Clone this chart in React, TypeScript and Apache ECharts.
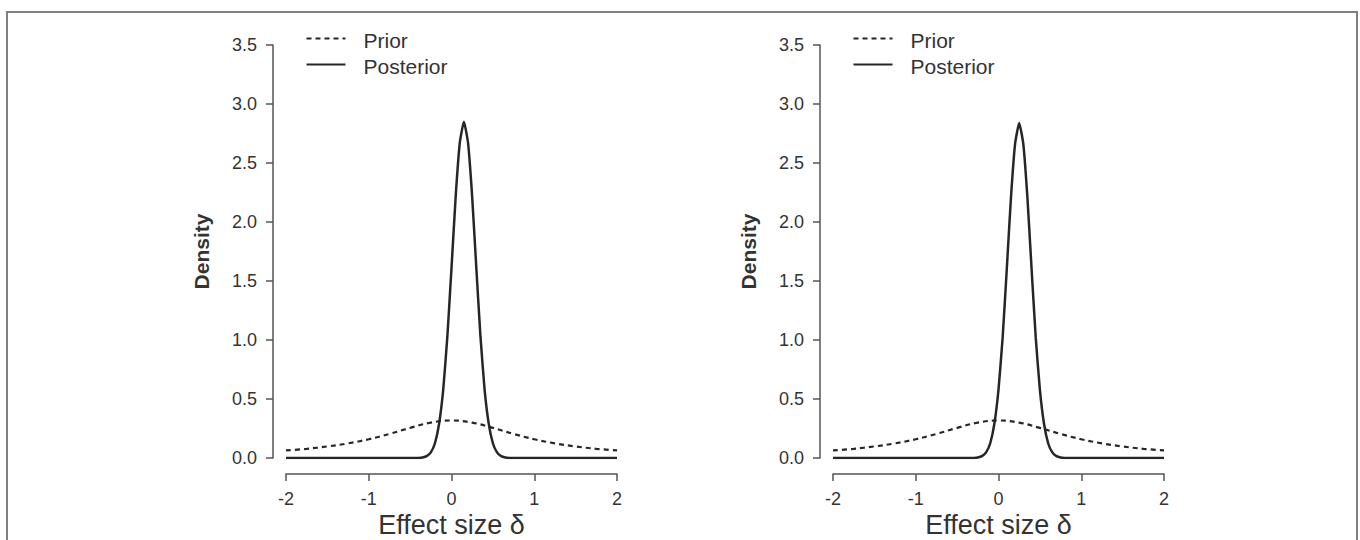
import React, { useEffect, useRef } from "react";
import * as echarts from "echarts";

// Prior (Cauchy-like) density, same in both panels
const priorX = [-2, -1.75, -1.5, -1.25, -1, -0.75, -0.5, -0.25, 0, 0.25, 0.5, 0.75, 1, 1.25, 1.5, 1.75, 2];
const priorY = [0.064, 0.078, 0.098, 0.124, 0.159, 0.204, 0.255, 0.3, 0.318, 0.3, 0.255, 0.204, 0.159, 0.124, 0.098, 0.078, 0.064];

// Left panel posterior
const postLeftX = [-2, -0.45, -0.4, -0.35, -0.3, -0.25, -0.2, -0.15, -0.1, -0.05, 0, 0.05, 0.1, 0.15, 0.2, 0.25, 0.3, 0.35, 0.4, 0.45, 0.5, 0.55, 0.6, 0.65, 0.7, 0.75, 2];
const postLeftY = [0, 0, 0.001, 0.005, 0.016, 0.048, 0.125, 0.29, 0.58, 1.03, 1.61, 2.21, 2.67, 2.85, 2.67, 2.21, 1.61, 1.03, 0.58, 0.29, 0.125, 0.048, 0.016, 0.005, 0.001, 0, 0];

// Right panel posterior
const postRightX = [-2, -0.35, -0.3, -0.25, -0.2, -0.15, -0.1, -0.05, 0, 0.05, 0.1, 0.15, 0.2, 0.25, 0.3, 0.35, 0.4, 0.45, 0.5, 0.55, 0.6, 0.65, 0.7, 0.75, 0.8, 0.85, 2];
const postRightY = [0, 0, 0.001, 0.005, 0.016, 0.048, 0.125, 0.29, 0.58, 1.02, 1.6, 2.2, 2.66, 2.84, 2.66, 2.2, 1.6, 1.02, 0.58, 0.29, 0.125, 0.048, 0.016, 0.005, 0.001, 0, 0];

const xTicks = { min: -2, max: 2, interval: 1 };
const yTicks = { min: 0, max: 3.5, interval: 0.5 };

const legendNames = ["Prior", "Posterior"];

const FONT = "Liberation Sans, Arial, sans-serif";
const AXIS_COLOR = "#555";
const TEXT_COLOR = "#333";
const LINE_COLOR = "#262626";
const DASH = [5, 4];

const zip = (xs: number[], ys: number[]) => xs.map((x, i) => [x, ys[i]]);

export default function App() {
  const ref = useRef<HTMLDivElement>(null);
  useEffect(() => {
    if (!ref.current) return;
    const chart = echarts.init(ref.current, null, { renderer: "svg" });

    const makeX = (gridIndex: number) => ({
      type: "value",
      gridIndex,
      min: xTicks.min,
      max: xTicks.max,
      interval: xTicks.interval,
      offset: 16,
      axisLine: { show: true, onZero: false, lineStyle: { color: AXIS_COLOR, width: 1.5 } },
      axisTick: { show: true, length: 7, lineStyle: { color: AXIS_COLOR, width: 1.5 } },
      splitLine: { show: false },
      axisLabel: { fontSize: 18, lineHeight: 16, color: TEXT_COLOR, fontFamily: FONT, margin: 17 },
      name: "Effect size δ",
      nameLocation: "middle",
      nameGap: 39,
      nameMoveOverlap: false,
      nameTextStyle: { fontSize: 27, lineHeight: 24, color: TEXT_COLOR, fontFamily: FONT },
    });
    const makeY = (gridIndex: number) => ({
      type: "value",
      gridIndex,
      min: yTicks.min,
      max: yTicks.max,
      interval: yTicks.interval,
      offset: 13,
      axisLine: { show: true, onZero: false, lineStyle: { color: AXIS_COLOR, width: 1.5 } },
      axisTick: { show: true, length: 7, lineStyle: { color: AXIS_COLOR, width: 1.5 } },
      splitLine: { show: false },
      axisLabel: {
        fontSize: 18,
        color: TEXT_COLOR,
        fontFamily: FONT,
        margin: 16,
        formatter: (v: number) => v.toFixed(1),
      },
      name: "Density",
      nameLocation: "middle",
      nameGap: 61,
      nameMoveOverlap: false,
      nameTextStyle: { fontSize: 21, fontWeight: "bold", color: TEXT_COLOR, fontFamily: FONT },
    });

    const priorStyle = { color: LINE_COLOR, width: 2.2, type: DASH };
    const postStyle = { color: LINE_COLOR, width: 2.5, type: "solid" };

    const makeSeries = (idx: number, px: number[], py: number[]) => [
      {
        name: legendNames[0],
        type: "line",
        xAxisIndex: idx,
        yAxisIndex: idx,
        data: zip(priorX, priorY),
        smooth: 0.4,
        symbol: "none",
        lineStyle: priorStyle,
        itemStyle: { color: LINE_COLOR },
      },
      {
        name: legendNames[1],
        type: "line",
        xAxisIndex: idx,
        yAxisIndex: idx,
        data: zip(px, py),
        smooth: 0.15,
        symbol: "none",
        lineStyle: postStyle,
        itemStyle: { color: LINE_COLOR },
      },
    ];

    const makeLegend = (left: number) => ({
      type: "group",
      left,
      top: 30,
      children: [
        {
          type: "line",
          shape: { x1: 0, y1: 12, x2: 39, y2: 12 },
          style: { stroke: LINE_COLOR, lineWidth: 2.2, lineDash: DASH },
        },
        {
          type: "text",
          x: 57,
          y: 14,
          style: { text: legendNames[0], fontSize: 21, fill: TEXT_COLOR, fontFamily: FONT, verticalAlign: "middle" },
        },
        {
          type: "line",
          shape: { x1: 0, y1: 38, x2: 39, y2: 38 },
          style: { stroke: LINE_COLOR, lineWidth: 2.2 },
        },
        {
          type: "text",
          x: 57,
          y: 40,
          style: { text: legendNames[1], fontSize: 21, fill: TEXT_COLOR, fontFamily: FONT, verticalAlign: "middle" },
        },
      ],
    });

    chart.setOption({
      animation: false,
      backgroundColor: "#fff",
      grid: [
        { left: 286, right: 743, top: 45, bottom: 82, outerBoundsMode: "none", containLabel: false },
        { left: 833, right: 196, top: 45, bottom: 82, outerBoundsMode: "none", containLabel: false },
      ],
      xAxis: [makeX(0), makeX(1)],
      yAxis: [makeY(0), makeY(1)],
      series: [...makeSeries(0, postLeftX, postLeftY), ...makeSeries(1, postRightX, postRightY)],
      graphic: [
        {
          type: "rect",
          silent: true,
          shape: { x: 7, y: 12, width: 1350, height: 600 },
          style: { fill: "none", stroke: "#808080", lineWidth: 2 },
        },
        makeLegend(304),
        makeLegend(851),
      ],
    });
    return () => chart.dispose();
  }, []);
  return (
    <div
      ref={ref}
      style={{ position: "fixed", left: 0, top: 0, width: 1360, height: 540, background: "#fff" }}
    />
  );
}
